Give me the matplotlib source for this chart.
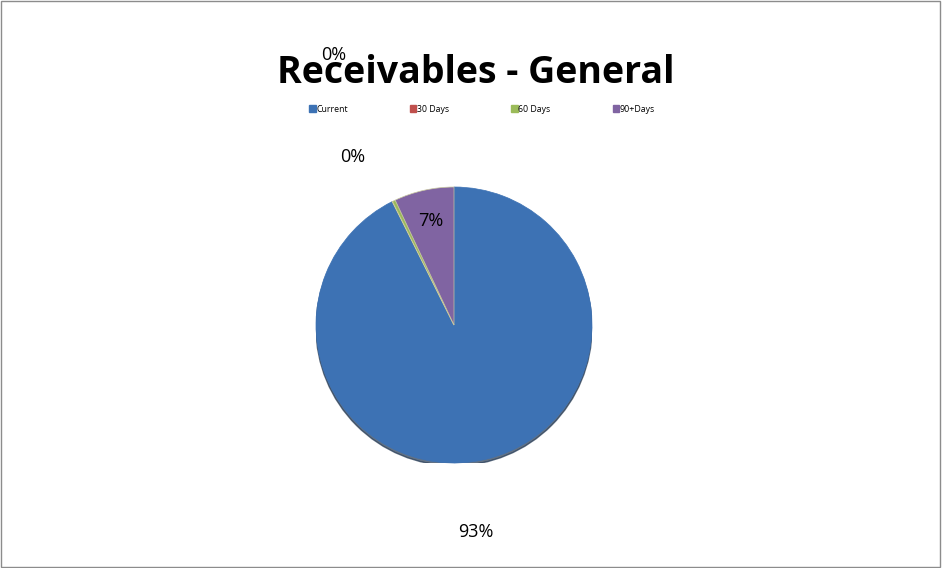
import numpy as np
import matplotlib
matplotlib.use("Agg")
import matplotlib.pyplot as plt
from matplotlib.patches import Rectangle, Circle

categorias = ["Current", "30 Days", "60 Days", "90+Days"]
valores = [92.6, 0.05, 0.35, 7.0]
rotulos = ["93%", "0%", "0%", "7%"]
cores = ["#3d72b4", "#c0504d", "#9bbb59", "#8064a2"]

plt.rcParams["font.family"] = ["Open Sans", "DejaVu Sans"]

fig = plt.figure(figsize=(9.42, 5.68), dpi=100)
fig.patches.append(Rectangle((0.001, 0.001), 0.997, 0.997, transform=fig.transFigure,
                             fill=False, edgecolor="#8c8c8c", linewidth=1))

# eixo do gráfico circular (centro ~ (454, 325) px, raio ~138 px)
raio_px = 138
cx, cy = 454, 325
ax = fig.add_axes([(cx - raio_px) / 942, (568 - cy - raio_px) / 568,
                   2 * raio_px / 942, 2 * raio_px / 568])

sombra = Circle((0.0, -0.02), 1.0, color="#1f3550", alpha=0.7, zorder=0)
ax.add_patch(sombra)
fatias, _ = ax.pie(valores, colors=cores, startangle=90, counterclock=False,
                   wedgeprops=dict(linewidth=0.5, edgecolor="#c8c8a0"))
for f in fatias:
    f.set_zorder(1)
fatias[0].set_edgecolor(cores[0])
ax.set_xlim(-1, 1)
ax.set_ylim(-1, 1)
ax.set_aspect("equal")
ax.axis("off")

# posição dos rótulos (raio e ângulo por fatia, como o Excel os pôs)
dist_rotulos = [1.51, 2.14, 1.42, 0.77]
angulos_rotulos = [-84, 114.1, 121, None]
acum = np.cumsum([0] + valores[:-1])
total = sum(valores)
for i, (v, rot) in enumerate(zip(valores, rotulos)):
    meio = angulos_rotulos[i]
    if meio is None:
        meio = 90 - 360 * (acum[i] + v / 2) / total
    ang = np.deg2rad(meio)
    r = dist_rotulos[i]
    ax.text(r * np.cos(ang), r * np.sin(ang), rot, ha="center", va="center",
            fontsize=13, color="#000000", clip_on=False, zorder=5)

fig.text(0.505, 1 - 83 / 568, "Receivables - General", ha="center", va="baseline",
         fontsize=27, fontweight="bold", color="#000000")

handles = [Rectangle((0, 0), 1, 1, color=c) for c in cores]
fig.legend(handles, categorias, loc="center", bbox_to_anchor=(0.512, 1 - 109 / 568),
           ncol=4, frameon=False, fontsize=6.3, handlelength=0.7, handleheight=0.7,
           handletextpad=0.1, columnspacing=7.1)

fig.savefig("out.png", dpi=100)
plt.close(fig)
